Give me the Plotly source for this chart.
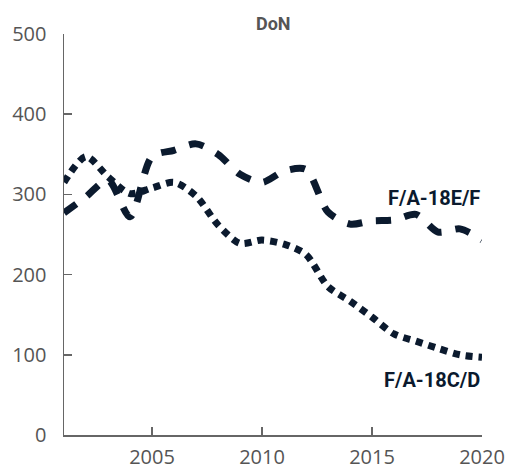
import plotly.graph_objects as go

years = list(range(2001, 2021))
ef_values = [277, 297, 318, 272, 347, 355, 363, 350, 325, 315,
             329, 331, 278, 263, 267, 268, 275, 253, 257, 243]
cd_values = [315, 347, 322, 301, 308, 315, 298, 262, 239, 243,
             238, 225, 185, 167, 147, 126, 117, 108, 100, 97]
y_ticks = [0, 100, 200, 300, 400, 500]
x_ticks = [2005, 2010, 2015, 2020]
title_text = "DoN"
label_ef = "F/A-18E/F"
label_cd = "F/A-18C/D"

navy = "#0b1a2e"
gray = "#555555"

fig = go.Figure()
fig.add_trace(go.Scatter(x=years, y=ef_values, mode="lines",
                         line=dict(color=navy, width=7, dash="15px,14px",
                                   shape="spline", smoothing=0.8),
                         showlegend=False, hoverinfo="skip", cliponaxis=False))
fig.add_trace(go.Scatter(x=years, y=cd_values, mode="lines",
                         line=dict(color=navy, width=7, dash="7px,6px",
                                   shape="spline", smoothing=0.8),
                         showlegend=False, hoverinfo="skip", cliponaxis=False))

fig.update_layout(
    template="none",
    width=507, height=472,
    margin=dict(l=64, r=25, t=34, b=37, autoexpand=False),
    paper_bgcolor="white", plot_bgcolor="white",
    font=dict(family="Open Sans", color=gray),
    showlegend=False,
)
fig.update_xaxes(range=[2001, 2020], tickvals=x_ticks, ticks="inside", ticklen=8,
                 tickcolor="#666", tickwidth=1.5, showline=True, linecolor="#666",
                 linewidth=1.5, showgrid=False, zeroline=False, automargin=False,
                 tickfont=dict(size=20, color=gray), ticklabelstandoff=3)
fig.update_yaxes(range=[0, 500], tickvals=y_ticks, ticks="inside", ticklen=8,
                 tickcolor="#666", tickwidth=1.5, showline=True, linecolor="#666",
                 linewidth=1.5, showgrid=False, zeroline=False, automargin=False,
                 tickfont=dict(size=20, color=gray), ticklabelstandoff=12)

fig.add_annotation(x=0.5, y=1, xref="paper", yref="paper", text="<b>" + title_text + "</b>",
                   showarrow=False, yanchor="middle", yshift=11,
                   font=dict(family="Roboto", size=18, color=gray))
fig.add_annotation(x=2020, y=295, text="<b>" + label_ef + "</b>", showarrow=False,
                   xanchor="right", yanchor="middle",
                   font=dict(family="Roboto", size=20, color=navy))
fig.add_annotation(x=2020, y=69, text="<b>" + label_cd + "</b>", showarrow=False,
                   xanchor="right", yanchor="middle",
                   font=dict(family="Roboto", size=20, color=navy))

fig.write_html("out.html",
               config={"displayModeBar": False, "staticPlot": True},
               post_script="document.body.style.margin='0';document.body.style.overflow='hidden';")
